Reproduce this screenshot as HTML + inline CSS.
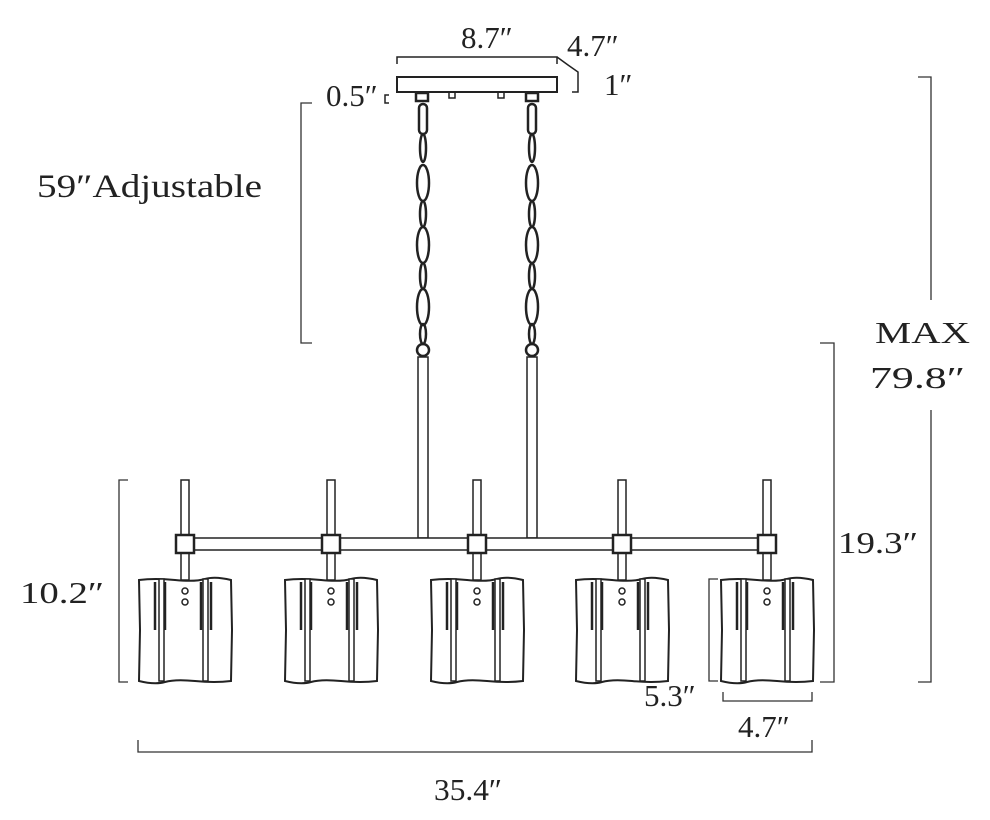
<!DOCTYPE html>
<html><head><style>
html,body{margin:0;padding:0;background:#fff;}
svg{display:block;}
text{font-family:"Liberation Serif",serif;fill:#222;}
</style></head><body>
<svg width="990" height="820" viewBox="0 0 990 820" xmlns="http://www.w3.org/2000/svg">
<defs>
<g id="lamp" stroke="#222" fill="#fff" stroke-width="1.5">
  <rect x="-4" y="480" width="8" height="56"/>
  <rect x="-4" y="552" width="8" height="28"/>
  <path d="M-46 580 Q-30 578 -10 580 T20 579 T46 580 L47 630 L46 681 Q30 683 10 681 T-20 682 T-46 681 L-45 630 Z" stroke-width="2"/>
  <rect x="-26" y="579" width="5" height="102"/>
  <rect x="18" y="579" width="5" height="102"/>
  <path d="M-30 582 L-30 630 M-20 582 L-20 630 M16 582 L16 630 M26 582 L26 630" stroke-width="2.5"/>
  <circle cx="0" cy="591" r="3"/>
  <circle cx="0" cy="602" r="3"/>
  <rect x="-9" y="535" width="18" height="18" stroke-width="2.5"/>
</g>
</defs>
<g stroke="#222" fill="none" stroke-width="1.5">
  <rect x="397" y="77" width="160" height="15" fill="#fff" stroke-width="2"/>
  <rect x="449" y="92" width="6" height="6"/>
  <rect x="498" y="92" width="6" height="6"/>
  <path d="M397 64 V57 H557 V64 M557 57 L568 65 L578 72 V92 H572"/>
  <path d="M389 95 H385 V103 H389"/>
  <g stroke-width="2.5">
    <rect x="416" y="93" width="12" height="8"/>
    <rect x="526" y="93" width="12" height="8"/>
    <rect x="419" y="104" width="8" height="30" rx="4"/>
    <ellipse cx="423" cy="148" rx="3" ry="14"/>
    <ellipse cx="423" cy="183" rx="6" ry="18"/><ellipse cx="423" cy="214" rx="3" ry="13"/>
    <ellipse cx="423" cy="245" rx="6" ry="18"/><ellipse cx="423" cy="276" rx="3" ry="13"/>
    <ellipse cx="423" cy="307" rx="6" ry="18"/><ellipse cx="423" cy="334" rx="3" ry="10"/>
    <rect x="528" y="104" width="8" height="30" rx="4"/>
    <ellipse cx="532" cy="148" rx="3" ry="14"/>
    <ellipse cx="532" cy="183" rx="6" ry="18"/><ellipse cx="532" cy="214" rx="3" ry="13"/>
    <ellipse cx="532" cy="245" rx="6" ry="18"/><ellipse cx="532" cy="276" rx="3" ry="13"/>
    <ellipse cx="532" cy="307" rx="6" ry="18"/><ellipse cx="532" cy="334" rx="3" ry="10"/>
    <circle cx="423" cy="350" r="6"/><circle cx="532" cy="350" r="6"/>
  </g>
  <rect x="418" y="357" width="10" height="181" fill="#fff"/>
  <rect x="527" y="357" width="10" height="181" fill="#fff"/>
  <rect x="185" y="538" width="582" height="12" fill="#fff"/>
</g>
<use href="#lamp" x="185"/>
<use href="#lamp" x="331"/>
<use href="#lamp" x="477"/>
<use href="#lamp" x="622"/>
<use href="#lamp" x="767"/>
<g stroke="#333" fill="none" stroke-width="1.3">
  <path d="M312 103 H301 V343 H312"/>
  <path d="M128 480 H119 V682 H128"/>
  <path d="M820 343 H834 V682 H820"/>
  <path d="M918 77 H931 V300 M931 410 V682 H918"/>
  <path d="M718 579 H709 V681 H718"/>
  <path d="M723 692 V701 H812 V692"/>
  <path d="M138 740 V752 H812 V740"/>
</g>
<g font-size="31">
  <text x="461" y="48">8.7″</text>
  <text x="567" y="56">4.7″</text>
  <text x="604" y="95">1″</text>
  <text x="326" y="106">0.5″</text>
  <text x="37" y="197" font-size="33" textLength="225" lengthAdjust="spacingAndGlyphs">59″Adjustable</text>
  <text x="875" y="343" textLength="95" lengthAdjust="spacingAndGlyphs">MAX</text>
  <text x="870" y="388" textLength="95" lengthAdjust="spacingAndGlyphs">79.8″</text>
  <text x="838" y="553" textLength="80" lengthAdjust="spacingAndGlyphs">19.3″</text>
  <text x="20" y="603" textLength="84" lengthAdjust="spacingAndGlyphs">10.2″</text>
  <text x="644" y="706">5.3″</text>
  <text x="738" y="737">4.7″</text>
  <text x="434" y="800" textLength="68" lengthAdjust="spacingAndGlyphs">35.4″</text>
</g>
</svg>
</body></html>
